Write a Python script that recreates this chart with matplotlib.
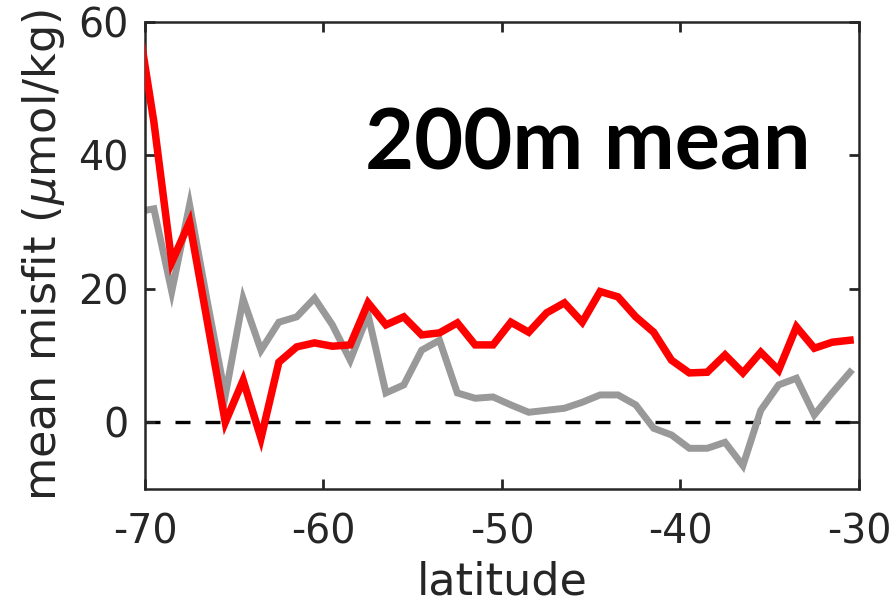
import matplotlib
matplotlib.use("Agg")
import matplotlib.pyplot as plt
import numpy as np

plt.rcParams["axes.unicode_minus"] = False

# Latitude bin centres (degrees)
latitude = [-70.5, -69.5, -68.5, -67.5, -66.5, -65.5, -64.5, -63.5, -62.5, -61.5,
            -60.5, -59.5, -58.5, -57.5, -56.5, -55.5, -54.5, -53.5, -52.5, -51.5,
            -50.5, -49.5, -48.5, -47.5, -46.5, -45.5, -44.5, -43.5, -42.5, -41.5,
            -40.5, -39.5, -38.5, -37.5, -36.5, -35.5, -34.5, -33.5, -32.5, -31.5,
            -30.5]

# Mean misfit over the upper 200 m (umol/kg)
misfit_red = [62.0, 45.0, 24.0, 30.0, 15.0, 0.0, 6.3, -2.4, 9.0, 11.3,
              11.9, 11.4, 11.6, 17.9, 14.6, 15.8, 13.1, 13.4, 14.9, 11.6,
              11.6, 15.0, 13.5, 16.4, 17.9, 15.0, 19.6, 18.8, 15.8, 13.5,
              9.3, 7.4, 7.5, 10.1, 7.4, 10.5, 7.8, 14.3, 11.1, 12.0,
              12.3]
misfit_gray = [31.5, 32.0, 19.6, 32.6, 18.0, 4.0, 18.5, 10.8, 15.0, 15.8,
               18.6, 14.6, 9.3, 16.1, 4.4, 5.6, 10.8, 12.3, 4.4, 3.6,
               3.8, 2.6, 1.5, 1.8, 2.1, 3.0, 4.1, 4.1, 2.6, -0.9,
               -1.9, -3.9, -3.9, -3.0, -6.5, 1.8, 5.6, 6.6, 1.1, 4.4,
               7.5]

x_ticks = [-70, -60, -50, -40, -30]
y_ticks = [0, 20, 40, 60]

axis_color = "#262626"

fig = plt.figure(figsize=(8.91, 6.04), dpi=100)
ax = fig.add_axes([0.1627, 0.1904, 0.8013, 0.7732])

ax.axhline(0, color="black", lw=2.4, ls=(0, (4.5, 4.5)), zorder=1)
ax.plot(latitude, misfit_gray, color="#999999", lw=5.0, zorder=2,
        solid_joinstyle="miter")
ax.plot(latitude, misfit_red, color="#ff0000", lw=5.4, zorder=3,
        solid_joinstyle="miter")

ax.set_xlim(-70, -30)
ax.set_ylim(-10, 60)
ax.set_xticks(x_ticks)
ax.set_yticks(y_ticks)
ax.tick_params(direction="in", length=7, width=2, colors=axis_color,
               labelsize=28.5, top=True, right=True,
               labeltop=False, labelright=False)
ax.tick_params(axis="x", pad=17)
ax.tick_params(axis="y", pad=12)
for sp in ax.spines.values():
    sp.set_color(axis_color)
    sp.set_linewidth(1.8)

ax.set_xlabel("latitude", fontsize=32, color=axis_color, labelpad=6)
ax.set_ylabel(r"mean misfit ($\mu$mol/kg)", fontsize=32, color=axis_color,
              labelpad=8)

ax.text(-45.2, 41.6, "200m mean", fontsize=61, fontweight="bold",
        family=["Lato", "DejaVu Sans"], color="black",
        ha="center", va="center")

fig.savefig("out.png", dpi=100)
